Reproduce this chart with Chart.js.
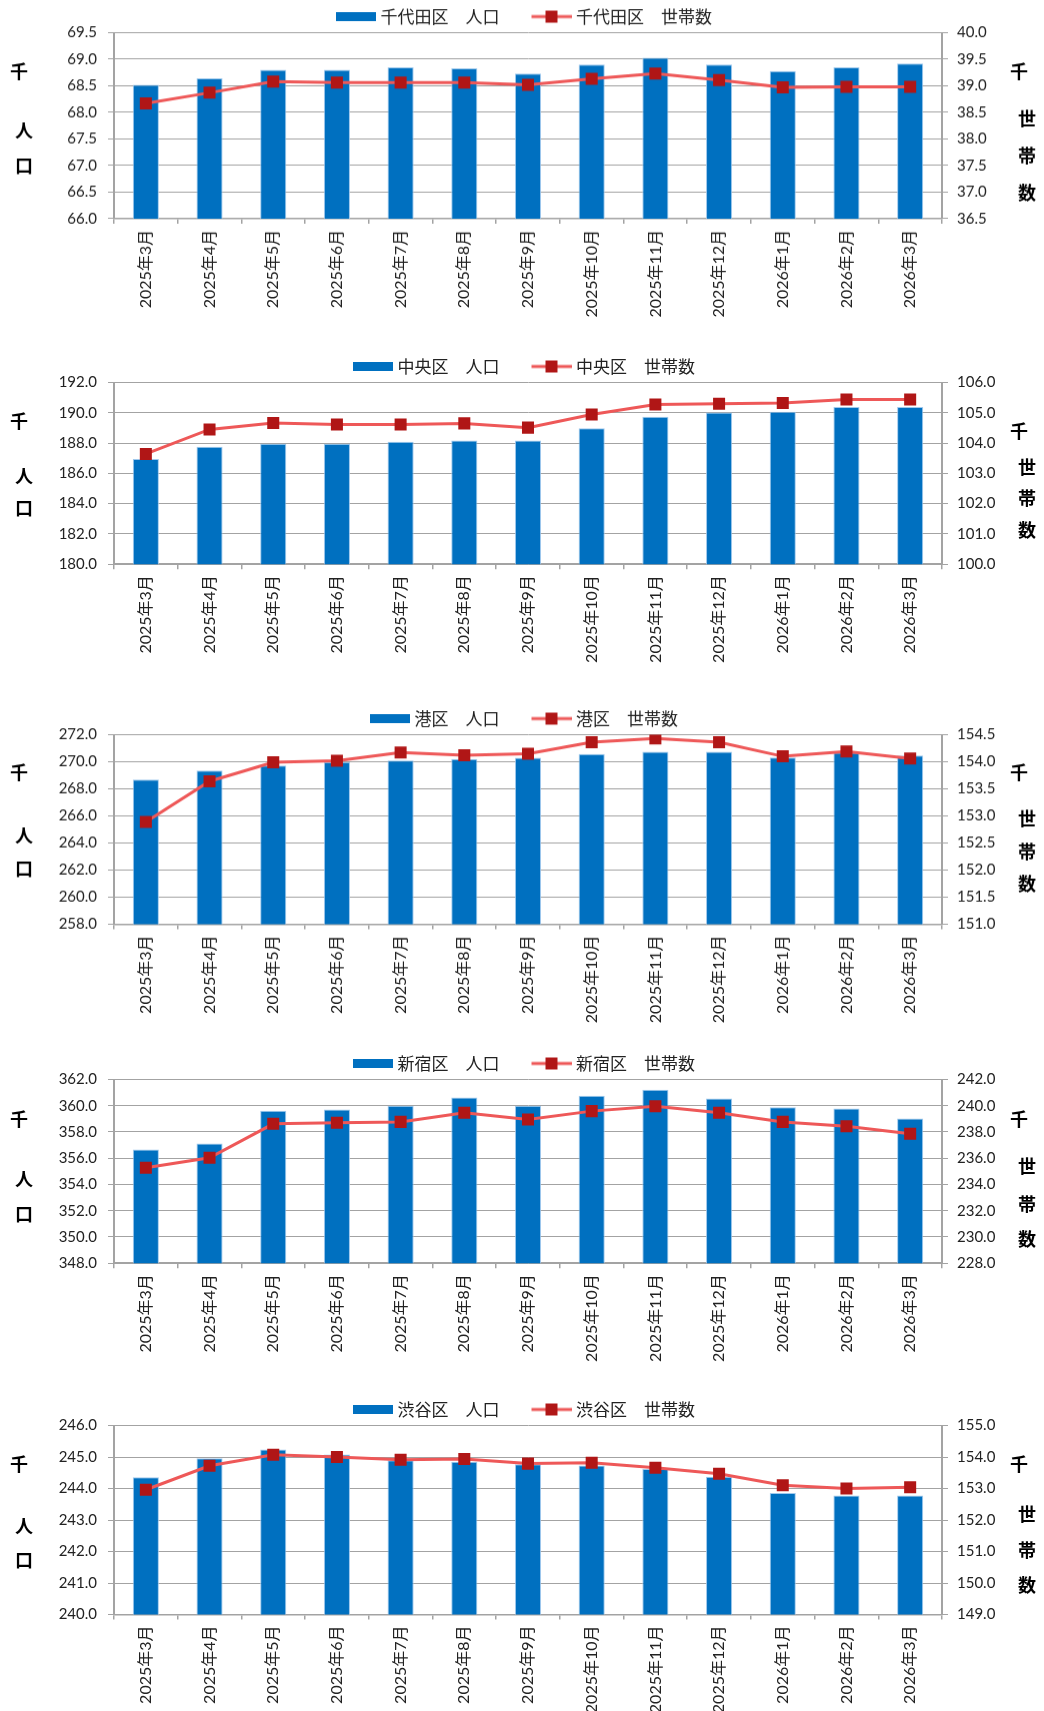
<!DOCTYPE html>
<html>
<head>
<meta charset="utf-8">
<script src="https://cdn.jsdelivr.net/npm/chart.js@4"></script>
<style>
  html, body { margin:0; padding:0; background:#fff; }
  body { width:1044px; height:1711px; position:relative; overflow:hidden; }
  .box { position:absolute; left:0; width:1044px; }
</style>
</head>
<body>
<script>
// ---- data ----
const months = ['2025年3月','2025年4月','2025年5月','2025年6月','2025年7月','2025年8月','2025年9月','2025年10月','2025年11月','2025年12月','2026年1月','2026年2月','2026年3月'];

const chiyodaPop = [68.52, 68.64, 68.80, 68.80, 68.85, 68.83, 68.73, 68.90, 69.03, 68.90, 68.78, 68.85, 68.92];
const chiyodaHh  = [38.67, 38.87, 39.08, 39.06, 39.06, 39.06, 39.02, 39.13, 39.23, 39.11, 38.97, 38.98, 38.98];

const chuoPop = [186.94, 187.75, 187.95, 187.95, 188.08, 188.17, 188.17, 188.98, 189.73, 190.02, 190.06, 190.39, 190.39];
const chuoHh  = [103.64, 104.45, 104.66, 104.61, 104.61, 104.65, 104.51, 104.94, 105.27, 105.30, 105.32, 105.44, 105.44];

const minatoPop = [268.69, 269.36, 269.73, 269.98, 270.10, 270.20, 270.30, 270.57, 270.74, 270.74, 270.32, 270.69, 270.47];
const minatoHh  = [152.89, 153.64, 153.99, 154.02, 154.17, 154.12, 154.15, 154.36, 154.43, 154.36, 154.10, 154.19, 154.06];

const shinjukuPop = [356.66, 357.12, 359.61, 359.71, 359.99, 360.63, 359.99, 360.76, 361.21, 360.55, 359.89, 359.79, 359.03];
const shinjukuHh  = [235.27, 236.03, 238.62, 238.70, 238.77, 239.46, 238.95, 239.59, 239.97, 239.46, 238.77, 238.44, 237.86];

const shibuyaPop = [244.36, 244.96, 245.24, 245.08, 244.90, 244.85, 244.77, 244.73, 244.62, 244.37, 243.86, 243.78, 243.78];
const shibuyaHh  = [152.96, 153.72, 154.07, 154.00, 153.91, 153.94, 153.79, 153.82, 153.66, 153.47, 153.10, 153.00, 153.04];

const wardNames = ['千代田区', '中央区', '港区', '新宿区', '渋谷区'];
const popSeries = [chiyodaPop, chuoPop, minatoPop, shinjukuPop, shibuyaPop];
const hhSeries  = [chiyodaHh, chuoHh, minatoHh, shinjukuHh, shibuyaHh];

// axis ranges [min, max, step]
const popAxis = [[66, 69.5, 0.5], [180, 192, 2], [258, 272, 2], [348, 362, 2], [240, 246, 1]];
const hhAxis  = [[36.5, 40, 0.5], [100, 106, 1], [151, 154.5, 0.5], [228, 242, 2], [149, 155, 1]];

const leftTitle = ['千', '人', '口'];
const rightTitle = ['千', '世', '帯', '数'];

// ---- layout / style ----
const areaTops = [32.3, 382.3, 734.7, 1079, 1425];
const areaBottoms = [217.7, 564, 923.7, 1262.7, 1614];
const leftTitleOffsets = [[38.7, 97.7, 132.7], [38.7, 93.7, 126], [38, 100.3, 133.6], [39.3, 99.3, 134.3], [39, 101, 135]];
const rightTitleOffsets = [[38.7, 85.7, 122.7, 159.7], [48.4, 84.4, 115.4, 147.7], [38, 83.6, 117, 148.6], [39.3, 87, 124.3, 159.3], [38.3, 88.3, 125, 160]];

const LEGEND_H = 52.5;
const XAXIS_H = 100;
const BAR_COLOR = '#0070C0';
const LINE_COLOR = 'rgb(238,88,88)';
const MARK_COLOR = 'rgb(176,22,22)';
const GRID_COLOR = '#A3A3A3';
const TEXT_COLOR = '#222222';
const NUM_FONT = "Lato, 'Noto Sans CJK JP', sans-serif";
const CJK_FONT = "'Noto Sans CJK JP', sans-serif";

// legend swatches: image is centred on the 40px box; swatch drawn at its right end so text sits close
const SW_W = 48;
function makeBarSwatch() {
  const c = document.createElement('canvas');
  c.width = SW_W; c.height = 9;
  const x = c.getContext('2d');
  x.fillStyle = BAR_COLOR;
  x.fillRect(SW_W - 40, 0, 40, 9);
  return c;
}
function makeLineSwatch() {
  const c = document.createElement('canvas');
  c.width = SW_W; c.height = 14;
  const x = c.getContext('2d');
  const o = SW_W - 40;
  x.strokeStyle = LINE_COLOR;
  x.lineWidth = 3;
  x.beginPath(); x.moveTo(o, 7); x.lineTo(o + 40, 7); x.stroke();
  x.fillStyle = MARK_COLOR;
  x.fillRect(o + 14, 1, 12, 12);
  return c;
}
const barSwatch = makeBarSwatch();
const lineSwatch = makeLineSwatch();

const sideTitles = {
  id: 'sideTitles',
  afterDraw(chart, args, opts) {
    const ctx = chart.ctx;
    const top = chart.chartArea.top;
    ctx.save();
    ctx.fillStyle = '#000';
    ctx.font = "bold 18px " + CJK_FONT;
    ctx.textAlign = 'center';
    ctx.textBaseline = 'middle';
    leftTitle.forEach((ch, i) => {
      ctx.fillText(ch, i === 0 ? 19 : 24, top + opts.left[i]);
    });
    rightTitle.forEach((ch, i) => {
      ctx.fillText(ch, i === 0 ? 1019 : 1027, top + opts.right[i]);
    });
    ctx.restore();
  }
};

for (let k = 0; k < 5; k++) {
  const areaH = areaBottoms[k] - areaTops[k];
  const div = document.createElement('div');
  div.className = 'box';
  div.style.top = (areaTops[k] - LEGEND_H) + 'px';
  div.style.height = (LEGEND_H + areaH + XAXIS_H) + 'px';
  const cv = document.createElement('canvas');
  div.appendChild(cv);
  document.body.appendChild(div);

  new Chart(cv, {
    type: 'bar',
    data: {
      labels: months,
      datasets: [
        {
          type: 'bar',
          label: wardNames[k] + '\u3000人口',
          data: popSeries[k],
          yAxisID: 'y',
          backgroundColor: BAR_COLOR,
          borderColor: 'rgba(150,195,235,0.9)',
          borderWidth: 1,
          barPercentage: 0.41,
          categoryPercentage: 1.0,
          order: 1
        },
        {
          type: 'line',
          label: wardNames[k] + '\u3000世帯数',
          data: hhSeries[k],
          yAxisID: 'y1',
          borderColor: LINE_COLOR,
          borderWidth: 3,
          pointStyle: 'rect',
          pointRadius: 8.5,
          pointBackgroundColor: MARK_COLOR,
          pointBorderColor: MARK_COLOR,
          pointBorderWidth: 0,
          tension: 0,
          order: 0
        }
      ]
    },
    options: {
      responsive: true,
      maintainAspectRatio: false,
      animation: false,
      devicePixelRatio: 1,
      layout: { padding: 0 },
      plugins: {
        tooltip: { enabled: false },
        sideTitles: { left: leftTitleOffsets[k], right: rightTitleOffsets[k] },
        legend: {
          position: 'top',
          maxHeight: LEGEND_H,
          labels: {
            color: TEXT_COLOR,
            font: { family: CJK_FONT, size: 17 },
            usePointStyle: true,
            pointStyleWidth: 40,
            padding: 28,
            sort: (a, b) => a.datasetIndex - b.datasetIndex,
            generateLabels(chart) {
              const items = Chart.defaults.plugins.legend.labels.generateLabels(chart);
              items.forEach(it => { it.pointStyle = it.datasetIndex === 0 ? barSwatch : lineSwatch; });
              return items;
            }
          }
        }
      },
      scales: {
        x: {
          offset: true,
          grid: { display: true, drawOnChartArea: false, drawTicks: true, tickLength: 5, offset: true, color: GRID_COLOR, lineWidth: 1.5 },
          border: { display: true, color: GRID_COLOR, width: 1.5 },
          ticks: { color: TEXT_COLOR, font: { family: NUM_FONT, size: 16 }, maxRotation: 90, minRotation: 90, padding: 6, autoSkip: false },
          afterFit(s) { s.height = XAXIS_H; }
        },
        y: {
          position: 'left',
          min: popAxis[k][0], max: popAxis[k][1],
          grid: { color: GRID_COLOR, lineWidth: 1, tickLength: 6, drawTicks: true },
          border: { display: true, color: GRID_COLOR, width: 2 },
          ticks: { stepSize: popAxis[k][2], color: TEXT_COLOR, font: { family: NUM_FONT, size: 15 }, padding: 11,
                   callback: v => Number(v).toFixed(1) },
          afterFit(s) { s.width = 114; }
        },
        y1: {
          position: 'right',
          min: hhAxis[k][0], max: hhAxis[k][1],
          grid: { drawOnChartArea: false, color: GRID_COLOR, tickLength: 6, drawTicks: true },
          border: { display: true, color: GRID_COLOR, width: 2 },
          ticks: { stepSize: hhAxis[k][2], color: TEXT_COLOR, font: { family: NUM_FONT, size: 15 }, padding: 9,
                   callback: v => Number(v).toFixed(1) },
          afterFit(s) { s.width = 102; }
        }
      }
    },
    plugins: [sideTitles]
  });
}
</script>
</body>
</html>
